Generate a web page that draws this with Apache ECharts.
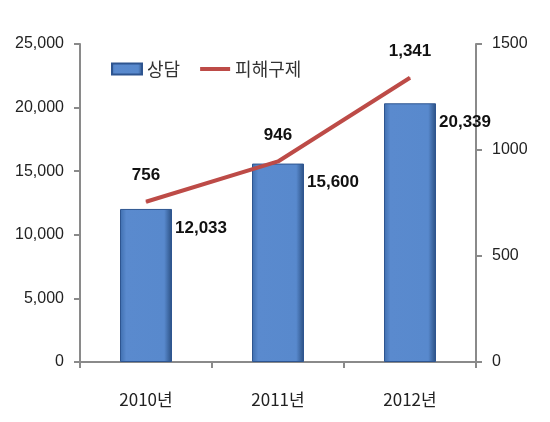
<!DOCTYPE html>
<html><head><meta charset="utf-8">
<script src="https://cdn.jsdelivr.net/npm/echarts@6/dist/echarts.min.js"></script>
<style>html,body{margin:0;padding:0;background:#fff}#c{width:550px;height:422px}</style>
</head><body><div id="c"></div>
<script>
const categories = ['2010년', '2011년', '2012년'];
const consultValues = [12033, 15600, 20339];
const reliefValues = [756, 946, 1341];
const leftTicks = [0, 5000, 10000, 15000, 20000, 25000];
const rightTicks = [0, 500, 1000, 1500];

const font = "'Liberation Sans', 'Noto Sans CJK KR', sans-serif";
const axisColor = '#8a8a8a';
const chart = echarts.init(document.getElementById('c'));
chart.setOption({
  animation: false,
  backgroundColor: '#fff',
  grid: { left: 80, right: 74, top: 44, bottom: 60 },
  legend: {
    left: 106, top: 55, itemGap: 20, itemWidth: 30, itemHeight: 11,
    textStyle: { fontSize: 18, color: '#333', fontFamily: "'Noto Sans CJK KR', sans-serif" },
    data: [
      { name: '상담', icon: 'rect' },
      { name: '피해구제', icon: 'path://M0,0 L30,0 L30,4 L0,4 Z' }
    ]
  },
  xAxis: {
    type: 'category', data: categories,
    axisLine: { lineStyle: { color: axisColor, width: 2 } },
    axisTick: { show: true, length: 6, lineStyle: { color: axisColor, width: 2 } },
    axisLabel: { fontSize: 17, color: '#222', margin: 29, fontFamily: "'Noto Sans CJK KR', sans-serif" }
  },
  yAxis: [
    {
      type: 'value', min: leftTicks[0], max: leftTicks[leftTicks.length - 1], interval: 5000,
      axisLine: { show: true, lineStyle: { color: axisColor, width: 2 } },
      axisTick: { show: true, length: 6, lineStyle: { color: axisColor, width: 2 } },
      splitLine: { show: false },
      axisLabel: { fontSize: 16, color: '#222', margin: 16, fontFamily: font,
        formatter: v => v.toLocaleString('en-US') }
    },
    {
      type: 'value', min: rightTicks[0], max: rightTicks[rightTicks.length - 1], interval: 500,
      axisLine: { show: true, lineStyle: { color: axisColor, width: 2 } },
      axisTick: { show: true, length: 6, lineStyle: { color: axisColor, width: 2 } },
      splitLine: { show: false },
      axisLabel: { fontSize: 16, color: '#222', margin: 16, fontFamily: font,
        formatter: v => String(v) }
    }
  ],
  series: [
    {
      name: '상담', type: 'bar', yAxisIndex: 0, data: consultValues, barWidth: 52,
      itemStyle: {
        color: new echarts.graphic.LinearGradient(0, 0, 1, 0, [
          { offset: 0, color: '#3f6eae' },
          { offset: 0.12, color: '#5a8ace' },
          { offset: 0.85, color: '#5889cd' },
          { offset: 1, color: '#2a4f82' }
        ]),
        borderColor: '#2e5590', borderWidth: 1
      },
      label: {
        show: true, position: ['100%', 19], offset: [3, 0], verticalAlign: 'middle', align: 'left',
        fontSize: 17, fontWeight: 'bold', color: '#111', fontFamily: font,
        formatter: p => p.value.toLocaleString('en-US')
      }
    },
    {
      name: '피해구제', type: 'line', yAxisIndex: 1, data: reliefValues,
      symbol: 'circle', symbolSize: 1, showSymbol: true,
      lineStyle: { color: '#bd4b47', width: 4 }, itemStyle: { color: '#bd4b47' },
      label: {
        show: true, position: 'top', distance: 17,
        fontSize: 17, fontWeight: 'bold', color: '#111', fontFamily: font,
        formatter: p => p.value.toLocaleString('en-US')
      }
    }
  ]
});
</script></body></html>
